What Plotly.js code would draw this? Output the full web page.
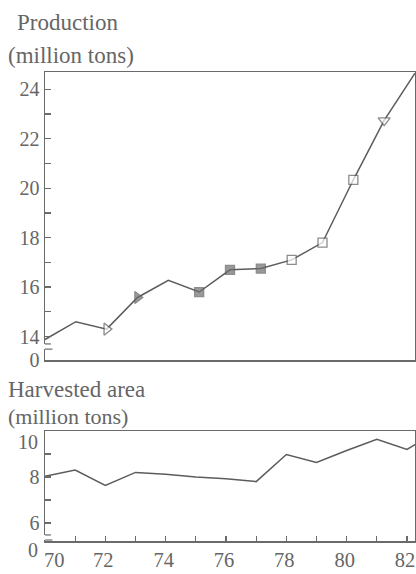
<!DOCTYPE html>
<html>
<head>
<meta charset="utf-8">
<script src="https://cdn.plot.ly/plotly-3.0.1.min.js"></script>
<style>html,body{margin:0;padding:0;background:#fff;}#chart{width:416px;height:574px;}</style>
</head>
<body>
<div id="chart"></div>
<script>
// ---- data ----
var productionYears = [70, 71, 72, 73, 74, 75, 76, 77, 78, 79, 80, 81, 82];
var production = [13.88, 14.6, 14.3, 15.58, 16.27, 15.8, 16.7, 16.75, 17.1, 17.8, 20.34, 22.74, 24.65];
var productionMarker = ['', '', 'triangle-right', 'triangle-right', '', 'square', 'square', 'square', 'square', 'square', 'square', 'triangle-down', ''];
var productionMarkerFill = ['', '', 'open', 'filled', '', 'filled', 'filled', 'filled', 'open', 'open', 'open', 'open', ''];
var areaYears = [70, 71, 72, 73, 74, 75, 76, 77, 78, 79, 80, 81, 82, 83];
var harvestedArea = [8.03, 8.3, 7.63, 8.2, 8.12, 8.0, 7.92, 7.8, 8.98, 8.63, 9.15, 9.64, 9.2, 10.0];
var xTickVals = [70, 71, 72, 73, 74, 75, 76, 77, 78, 79, 80, 81, 82];
var xTickText = ['', '', '72', '', '74', '', '76', '', '78', '', '80', '', '82'];
var xFirstLabel = '70';
var prodTickVals = [14, 15, 16, 17, 18, 19, 20, 21, 22, 23, 24];
var prodTickText = ['14', '', '16', '', '18', '', '20', '', '22', '', '24'];
var areaTickVals = [6, 7, 8, 9, 10];
var areaTickText = ['6', '', '8', '', ''];
var areaTopLabel = '10';
var breakLabel = '0';

// ---- styling ----
var ink = '#5c5c5c';
var txt = '#666666';
var fontFam = 'Liberation Serif, Times New Roman, serif';
var prodRange = [13.05, 24.70];
var areaRange = [5.217, 10.0];
var prodXRange = [70, 82];
var areaXRange = [70, 82.265];

var mSym = productionMarker.map(function (s) { return s || 'circle'; });
var mSize = productionMarker.map(function (s) { return s === '' ? 0 : (s.indexOf('triangle') === 0 ? 10.5 : 9); });
var mCol = productionMarkerFill.map(function (f) { return f === 'filled' ? '#6e6e6e' : '#ffffff'; });

var traces = [
  {
    x: productionYears, y: production, xaxis: 'x', yaxis: 'y', type: 'scatter', mode: 'lines+markers',
    line: {color: ink, width: 1.5},
    marker: {symbol: mSym, size: mSize, color: mCol, line: {color: ink, width: 1.3}},
    hoverinfo: 'x+y'
  },
  {
    x: areaYears, y: harvestedArea, xaxis: 'x2', yaxis: 'y2', type: 'scatter', mode: 'lines',
    line: {color: ink, width: 1.5},
    hoverinfo: 'x+y'
  }
];

var axisCommon = {
  showline: true, mirror: true, linecolor: '#6a6a6a', linewidth: 1.5,
  showgrid: false, zeroline: false, ticks: 'inside', ticklen: 6, tickwidth: 1.2, tickcolor: '#6a6a6a',
  tickfont: {family: fontFam, size: 20, color: txt}, ticklabeloverflow: 'allow'
};

function merge(a, b) { var o = {}; for (var k in a) o[k] = a[k]; for (var k2 in b) o[k2] = b[k2]; return o; }

var titleFont = {family: fontFam, size: 23, color: txt};
var subFont = {family: fontFam, size: 22, color: txt};
var tickFont = {family: fontFam, size: 20, color: txt};
var layout = {
  width: 416, height: 574,
  margin: {l: 45, r: 1, t: 72, b: 33},
  paper_bgcolor: '#ffffff', plot_bgcolor: '#ffffff',
  showlegend: false,
  font: {family: fontFam, color: txt},
  xaxis: merge(axisCommon, {range: prodXRange, anchor: 'y', showticklabels: false, ticks: '', tickvals: xTickVals}),
  yaxis: merge(axisCommon, {range: prodRange, domain: [0.3859, 1], anchor: 'x',
    tickvals: [prodRange[0]].concat(prodTickVals), ticktext: [breakLabel].concat(prodTickText)}),
  xaxis2: merge(axisCommon, {range: areaXRange, anchor: 'y2', tickvals: xTickVals, ticktext: xTickText, ticklen: 5,
    ticklabelshift: -2, tickfont: {family: fontFam, size: 20.5, color: txt}}),
  yaxis2: merge(axisCommon, {range: areaRange, domain: [0, 0.2345], anchor: 'x2',
    tickvals: areaTickVals, ticktext: areaTickText}),
  annotations: [
    {text: 'Production', xref: 'paper', yref: 'paper', x: -0.081, y: 1.1045, xanchor: 'left', yanchor: 'middle', showarrow: false, font: titleFont},
    {text: '(million tons)', xref: 'paper', yref: 'paper', x: -0.106, y: 1.0362, xanchor: 'left', yanchor: 'middle', showarrow: false, font: titleFont},
    {text: 'Harvested area', xref: 'paper', yref: 'paper', x: -0.106, y: 0.3220, xanchor: 'left', yanchor: 'middle', showarrow: false, font: {family: fontFam, size: 23, color: txt}},
    {text: '(million tons)', xref: 'paper', yref: 'paper', x: -0.106, y: 0.2644, xanchor: 'left', yanchor: 'middle', showarrow: false, font: subFont},
    {text: areaTopLabel, xref: 'paper', yref: 'paper', x: -0.0135, y: 0.2111, xanchor: 'right', yanchor: 'middle', showarrow: false, font: tickFont},
    {text: breakLabel, xref: 'paper', yref: 'paper', x: -0.0135, y: -0.0192, xanchor: 'right', yanchor: 'middle', showarrow: false, font: tickFont},
    {text: xFirstLabel, xref: 'paper', yref: 'paper', x: 0.027, y: -0.0405, xanchor: 'center', yanchor: 'middle', showarrow: false, font: {family: fontFam, size: 20.5, color: txt}}
  ],
  shapes: [
    // axis break, top panel
    {type: 'line', xref: 'paper', yref: 'y', x0: 0, x1: 0, y0: 13.49, y1: 13.70, line: {color: '#ffffff', width: 3}},
    {type: 'line', xref: 'paper', yref: 'y', x0: 0, x1: 0.016, y0: 13.70, y1: 13.70, line: {color: '#6a6a6a', width: 1.2}},
    {type: 'line', xref: 'paper', yref: 'y', x0: 0, x1: 0.02, y0: 13.49, y1: 13.49, line: {color: '#6a6a6a', width: 1.2}},
    // axis break, bottom panel
    {type: 'line', xref: 'paper', yref: 'y2', x0: 0, x1: 0, y0: 5.26, y1: 5.48, line: {color: '#ffffff', width: 3}},
    {type: 'line', xref: 'paper', yref: 'y2', x0: 0, x1: 0.016, y0: 5.48, y1: 5.48, line: {color: '#6a6a6a', width: 1.2}},
    {type: 'line', xref: 'paper', yref: 'y2', x0: 0, x1: 0.02, y0: 5.26, y1: 5.26, line: {color: '#6a6a6a', width: 1.2}}
  ]
};

Plotly.newPlot('chart', traces, layout, {displayModeBar: false, staticPlot: true});
</script>
</body>
</html>
